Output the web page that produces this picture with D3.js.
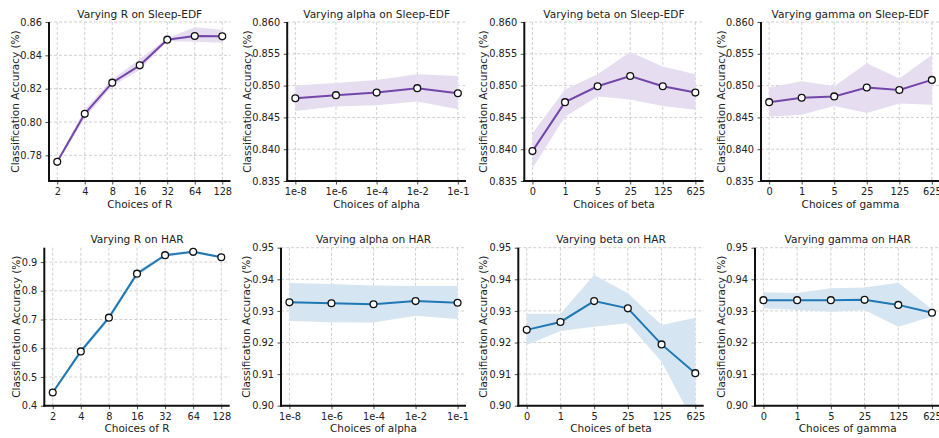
<!DOCTYPE html>
<html><head><meta charset="utf-8">
<script src="https://cdn.jsdelivr.net/npm/d3@7"></script>
<style>
body{margin:0;background:#fff;}
svg{display:block;font-family:"DejaVu Sans",sans-serif;}
</style></head>
<body><svg id="c" width="939" height="438"></svg>
<script>
// ---- data ----
const rCats = ["2","4","8","16","32","64","128"];
const alphaCats = ["1e-8","1e-6","1e-4","1e-2","1e-1"];
const betaCats = ["0","1","5","25","125","625"];
const gammaCats = ["0","1","5","25","125","625"];

const sleepR   = [0.7761,0.8049,0.8236,0.8340,0.8494,0.8516,0.8514];
const sleepRLo = [0.7751,0.8022,0.8216,0.8312,0.8484,0.8482,0.8476];
const sleepRHi = [0.7771,0.8076,0.8256,0.8376,0.8504,0.8568,0.8554];

const sleepAlpha   = [0.8480,0.8485,0.8489,0.8496,0.8488];
const sleepAlphaLo = [0.8460,0.8467,0.8469,0.8475,0.8463];
const sleepAlphaHi = [0.8500,0.8504,0.8509,0.8518,0.8515];

const sleepBeta   = [0.8397,0.8474,0.8499,0.8515,0.8499,0.8489];
const sleepBetaLo = [0.8370,0.8451,0.8483,0.8478,0.8468,0.8462];
const sleepBetaHi = [0.8425,0.8494,0.8518,0.8553,0.8530,0.8518];

const sleepGamma   = [0.8474,0.8481,0.8483,0.8497,0.8493,0.8509];
const sleepGammaLo = [0.8451,0.8454,0.8468,0.8457,0.8472,0.8470];
const sleepGammaHi = [0.8497,0.8507,0.8499,0.8535,0.8511,0.8548];

const harR   = [0.446,0.589,0.7065,0.8596,0.924,0.9356,0.917];
const harRLo = [0.440,0.580,0.698,0.850,0.919,0.931,0.913];
const harRHi = [0.452,0.598,0.715,0.869,0.929,0.940,0.921];

const harAlpha   = [0.9327,0.9324,0.9321,0.9331,0.9326];
const harAlphaLo = [0.9268,0.9264,0.9263,0.9285,0.9274];
const harAlphaHi = [0.9388,0.9385,0.9380,0.9379,0.9379];

const harBeta   = [0.9240,0.9265,0.9331,0.9308,0.9194,0.9103];
const harBetaLo = [0.9192,0.9236,0.9250,0.9261,0.9139,0.8938];
const harBetaHi = [0.9291,0.9291,0.9414,0.9356,0.9255,0.9278];

const harGamma   = [0.9334,0.9334,0.9334,0.9335,0.9319,0.9294];
const harGammaLo = [0.9308,0.9303,0.9297,0.9303,0.9250,0.9282];
const harGammaHi = [0.9359,0.9357,0.9372,0.9374,0.9389,0.9305];

const ticksSleepR = [0.78,0.80,0.82,0.84,0.86];
const ticksSleep = [0.835,0.840,0.845,0.850,0.855,0.860];
const ticksHarR = [0.4,0.5,0.6,0.7,0.8,0.9];
const ticksHar = [0.90,0.91,0.92,0.93,0.94,0.95];

const titles = ["Varying R on Sleep-EDF","Varying alpha on Sleep-EDF","Varying beta on Sleep-EDF","Varying gamma on Sleep-EDF",
                "Varying R on HAR","Varying alpha on HAR","Varying beta on HAR","Varying gamma on HAR"];
const xLabels = ["Choices of R","Choices of alpha","Choices of beta","Choices of gamma",
                 "Choices of R","Choices of alpha","Choices of beta","Choices of gamma"];
const yLabel = "Classification Accuracy (%)";

// ---- layout / style ----
const PURPLE = "#7446ab", PURPLE_FILL = "#e6def0";
const BLUE = "#1f77b4", BLUE_FILL = "#d5e5f2";

const panels = [
 {cats:rCats, v:sleepR, lo:sleepRLo, hi:sleepRHi, yd:[0.7646,0.86], ticks:ticksSleepR, fmt:".2f", L:49, R:230.5, T:22, B:181, yl:15, c:PURPLE, f:PURPLE_FILL},
 {cats:alphaCats, v:sleepAlpha, lo:sleepAlphaLo, hi:sleepAlphaHi, yd:[0.835,0.86], ticks:ticksSleep, fmt:".3f", L:287.2, R:466, T:22, B:181, yl:246.7, c:PURPLE, f:PURPLE_FILL},
 {cats:betaCats, v:sleepBeta, lo:sleepBetaLo, hi:sleepBetaHi, yd:[0.835,0.86], ticks:ticksSleep, fmt:".3f", L:524.3, R:703.5, T:22, B:181, yl:483.3, c:PURPLE, f:PURPLE_FILL},
 {cats:gammaCats, v:sleepGamma, lo:sleepGammaLo, hi:sleepGammaHi, yd:[0.835,0.86], ticks:ticksSleep, fmt:".3f", L:761, R:940, T:22, B:181, yl:720.7, c:PURPLE, f:PURPLE_FILL},
 {cats:rCats, v:harR, lo:harRLo, hi:harRHi, yd:[0.4,0.95], ticks:ticksHarR, fmt:".1f", L:44.3, R:229.7, T:247.7, B:405.7, yl:16, c:BLUE, f:BLUE_FILL},
 {cats:alphaCats, v:harAlpha, lo:harAlphaLo, hi:harAlphaHi, yd:[0.90,0.95], ticks:ticksHar, fmt:".2f", L:281, R:466, T:247.7, B:405.7, yl:246, c:BLUE, f:BLUE_FILL},
 {cats:betaCats, v:harBeta, lo:harBetaLo, hi:harBetaHi, yd:[0.90,0.95], ticks:ticksHar, fmt:".2f", L:518.3, R:703.7, T:247.7, B:405.7, yl:483.3, c:BLUE, f:BLUE_FILL},
 {cats:gammaCats, v:harGamma, lo:harGammaLo, hi:harGammaHi, yd:[0.90,0.95], ticks:ticksHar, fmt:".2f", L:755, R:940.4, T:247.7, B:405.7, yl:720.7, c:BLUE, f:BLUE_FILL}
];

const svg = d3.select("#c");

panels.forEach((p, i) => {
  const n = p.cats.length;
  const x = d3.scalePoint().domain(p.cats).range([p.L, p.R]).padding(0.05*(n-1));
  const y = d3.scaleLinear().domain(p.yd).range([p.B, p.T]);
  const g = svg.append("g");
  const clipId = "clip" + i;
  svg.append("clipPath").attr("id", clipId).append("rect")
    .attr("x", p.L).attr("y", p.T).attr("width", p.R - p.L).attr("height", p.B - p.T);

  // grid
  const grid = g.append("g").attr("stroke", "#c4c4c4").attr("stroke-width", 0.8).attr("stroke-dasharray", "3,2");
  p.cats.forEach(c => grid.append("line").attr("x1", x(c)).attr("x2", x(c)).attr("y1", p.T).attr("y2", p.B));
  p.ticks.forEach(t => grid.append("line").attr("x1", p.L).attr("x2", p.R).attr("y1", y(t)).attr("y2", y(t)));

  const rows = p.cats.map((c, k) => ({c, v:p.v[k], lo:p.lo[k], hi:p.hi[k]}));
  const plot = g.append("g").attr("clip-path", `url(#${clipId})`);
  plot.append("path").datum(rows)
    .attr("fill", p.f).attr("stroke", "none")
    .attr("d", d3.area().x(d => x(d.c)).y0(d => y(d.lo)).y1(d => y(d.hi)));
  plot.append("path").datum(rows)
    .attr("fill", "none").attr("stroke", p.c).attr("stroke-width", 2)
    .attr("d", d3.line().x(d => x(d.c)).y(d => y(d.v)));
  g.append("g").selectAll("circle").data(rows).join("circle")
    .attr("cx", d => x(d.c)).attr("cy", d => y(d.v)).attr("r", 3.4)
    .attr("fill", "#fff").attr("stroke", "#111").attr("stroke-width", 1.3);

  // axes
  const ax = g.append("g").attr("transform", `translate(0,${p.B})`)
    .call(d3.axisBottom(x).tickSize(3.5).tickPadding(3.5));
  const ay = g.append("g").attr("transform", `translate(${p.L},0)`)
    .call(d3.axisLeft(y).tickValues(p.ticks).tickFormat(d3.format(p.fmt)).tickSize(3.5).tickPadding(3.5));
  [ax, ay].forEach(a => {
    a.select(".domain").remove();
    a.selectAll("text").attr("font-size", 9.8).attr("fill", "#222").attr("font-family", "DejaVu Sans");
    a.selectAll("line").attr("stroke", "#222").attr("stroke-width", 0.8);
  });
  // spines
  g.append("line").attr("x1", p.L).attr("x2", p.L).attr("y1", p.T).attr("y2", p.B + 1)
    .attr("stroke", "#111").attr("stroke-width", 2);
  g.append("line").attr("x1", p.L - 1).attr("x2", p.R).attr("y1", p.B).attr("y2", p.B)
    .attr("stroke", "#111").attr("stroke-width", 2);

  // labels
  g.append("text").attr("x", (p.L + p.R) / 2).attr("y", p.T - 4 - (i >= 4 ? 1 : 0))
    .attr("text-anchor", "middle").attr("font-size", 10.6).attr("fill", "#222").text(titles[i]);
  g.append("text").attr("x", (p.L + p.R) / 2).attr("y", p.B + 26.5)
    .attr("text-anchor", "middle").attr("font-size", 10.5).attr("fill", "#222").text(xLabels[i]);
  g.append("text").attr("transform", `translate(${p.yl},${(p.T + p.B) / 2}) rotate(-90)`)
    .attr("text-anchor", "middle").attr("dominant-baseline", "central")
    .attr("font-size", 10.5).attr("fill", "#222").text(yLabel);
});
</script></body></html>
